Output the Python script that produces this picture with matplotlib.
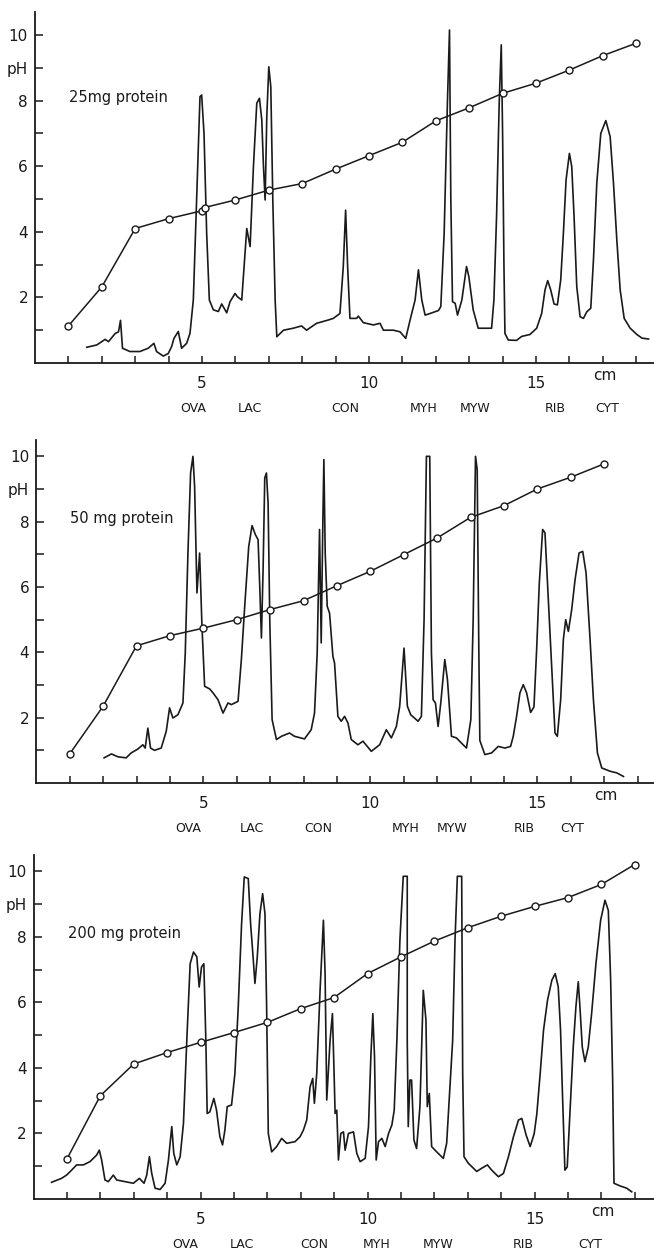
import matplotlib
matplotlib.use("Agg")
import matplotlib.pyplot as plt

# ---------------- data ----------------
ph_x1 = [1, 2, 3, 4, 5, 5.08, 6, 7, 8, 9, 10, 11, 12, 13, 14, 15, 16, 17, 18]
ph_y1 = [1.13, 2.32, 4.1, 4.4, 4.64, 4.74, 4.97, 5.27, 5.47, 5.91, 6.32, 6.73, 7.38, 7.78, 8.22, 8.53, 8.93, 9.37, 9.75]

ph_x2 = [1, 2, 3, 4, 5, 6, 7, 8, 9, 10, 11, 12, 13, 14, 15, 16, 17]
ph_y2 = [0.89, 2.35, 4.2, 4.51, 4.74, 5.0, 5.31, 5.58, 6.04, 6.48, 6.99, 7.5, 8.13, 8.49, 9.0, 9.36, 9.77]

ph_x3 = [1, 2, 3, 4, 5, 6, 7, 8, 9, 10, 11, 12, 13, 14, 15, 16, 17, 18]
ph_y3 = [1.22, 3.15, 4.12, 4.47, 4.78, 5.08, 5.39, 5.81, 6.15, 6.88, 7.39, 7.87, 8.28, 8.63, 8.93, 9.2, 9.6, 10.21]

cur_x1 = [1.55, 1.85, 2.1, 2.2, 2.4, 2.5, 2.56, 2.62, 2.84, 3.14, 3.39, 3.56, 3.64, 3.84, 3.99, 4.09,
          4.16, 4.29, 4.39, 4.54, 4.64, 4.74, 4.84, 4.94, 4.99, 5.06, 5.14, 5.22, 5.34, 5.49, 5.59,
          5.74, 5.84, 5.99, 6.06, 6.19, 6.26, 6.34, 6.44, 6.54, 6.64, 6.72, 6.79, 6.84, 6.89, 6.94,
          7.0, 7.06, 7.12, 7.19, 7.24, 7.44, 7.73, 7.98, 8.13, 8.43, 8.78, 8.93, 9.13, 9.23, 9.3,
          9.36, 9.43, 9.63, 9.68, 9.83, 10.13, 10.33, 10.43, 10.73, 10.93, 11.1, 11.23, 11.38, 11.48,
          11.58, 11.68, 11.83, 12.08, 12.15, 12.25, 12.35, 12.41, 12.45, 12.5, 12.58, 12.65, 12.78,
          12.92, 12.99, 13.12, 13.27, 13.5, 13.67, 13.74, 13.82, 13.9, 13.96, 14.0, 14.04, 14.07,
          14.17, 14.42, 14.57, 14.82, 15.02, 15.17, 15.27, 15.35, 15.44, 15.54, 15.64, 15.74, 15.82,
          15.9, 16.0, 16.07, 16.14, 16.22, 16.32, 16.42, 16.52, 16.64, 16.72, 16.82, 16.94, 17.09,
          17.22, 17.32, 17.42, 17.52, 17.64, 17.82, 18.02, 18.17, 18.37]
cur_y1 = [0.48, 0.55, 0.72, 0.65, 0.9, 0.95, 1.3, 0.45, 0.35, 0.35, 0.45, 0.6, 0.35, 0.21, 0.29, 0.5,
          0.75, 0.96, 0.45, 0.6, 0.9, 1.92, 4.97, 8.12, 8.17, 7.0, 3.95, 1.92, 1.62, 1.57, 1.8,
          1.53, 1.87, 2.12, 2.02, 1.92, 2.94, 4.1, 3.55, 5.99, 7.92, 8.07, 7.41, 6.0, 4.97, 7.52,
          9.03, 8.42, 4.97, 1.92, 0.8, 1.0, 1.06, 1.13, 1.0, 1.21, 1.31, 1.36, 1.51, 2.94, 4.66,
          2.94, 1.36, 1.36, 1.43, 1.23, 1.16, 1.21, 1.0, 1.0, 0.95, 0.75, 1.31, 1.92, 2.84,
          1.92, 1.46, 1.51, 1.6, 1.72, 3.95, 8.02, 10.15, 4.97, 1.87, 1.82, 1.46, 1.92,
          2.94, 2.63, 1.62, 1.06, 1.06, 1.06, 1.92, 4.5, 8.0, 9.7, 7.0, 3.0, 0.9,
          0.7, 0.69, 0.81, 0.87, 1.06, 1.51, 2.23, 2.51, 2.23, 1.8, 1.77, 2.53, 3.95,
          5.58, 6.39, 5.99, 4.46, 2.33, 1.41, 1.36, 1.56, 1.67, 3.14, 5.48, 7.0, 7.39,
          6.9, 5.48, 3.75, 2.23, 1.36, 1.06, 0.87, 0.76, 0.73]

cur_x2 = [2.03, 2.25, 2.45, 2.69, 2.84, 3.04, 3.19, 3.26, 3.34, 3.42, 3.54, 3.74, 3.89, 3.99, 4.09,
          4.24, 4.39, 4.46, 4.54, 4.62, 4.69, 4.74, 4.81, 4.89, 4.96, 5.04, 5.19, 5.29, 5.44, 5.59,
          5.74, 5.84, 6.04, 6.14, 6.24, 6.36, 6.46, 6.56, 6.64, 6.69, 6.74, 6.79, 6.84, 6.89, 6.94,
          6.99, 7.06, 7.19, 7.34, 7.58, 7.73, 8.03, 8.23, 8.33, 8.41, 8.48, 8.53, 8.58, 8.61, 8.65,
          8.71, 8.78, 8.88, 8.93, 9.03, 9.13, 9.23, 9.33, 9.43, 9.63, 9.78, 10.03, 10.28, 10.48,
          10.63, 10.78, 10.88, 11.01, 11.11, 11.21, 11.43, 11.53, 11.61, 11.68, 11.78, 11.83, 11.88,
          11.95, 12.03, 12.11, 12.23, 12.31, 12.43, 12.58, 12.73, 12.88, 13.01, 13.08, 13.15, 13.2,
          13.25, 13.28, 13.43, 13.63, 13.83, 14.03, 14.2, 14.28, 14.38, 14.48, 14.58, 14.68, 14.8,
          14.9, 14.98, 15.06, 15.16, 15.23, 15.33, 15.43, 15.53, 15.6, 15.7, 15.78, 15.85, 15.93,
          16.03, 16.13, 16.25, 16.36, 16.46, 16.58, 16.68, 16.8, 16.93, 17.18, 17.38, 17.58]
cur_y2 = [0.77, 0.89, 0.8, 0.77, 0.92, 1.04, 1.17, 1.07, 1.68, 1.07, 1.0, 1.07, 1.58, 2.3, 1.99,
          2.09, 2.45, 3.98, 7.04, 9.49, 10.0, 9.08, 5.82, 7.04, 4.8, 2.96, 2.88, 2.76, 2.55, 2.14,
          2.45, 2.4, 2.5, 3.78, 5.41, 7.24, 7.88, 7.6, 7.45, 6.02, 4.44, 6.53, 9.34, 9.49, 8.57,
          5.0, 1.94, 1.33, 1.43, 1.53, 1.43, 1.35, 1.63, 2.14, 3.98, 7.76, 4.29, 8.06, 9.9, 7.04,
          5.41, 5.2, 3.88, 3.67, 2.04, 1.89, 2.04, 1.84, 1.33, 1.17, 1.28, 0.97, 1.17, 1.63,
          1.38, 1.73, 2.35, 4.13, 2.35, 2.09, 1.89, 2.04, 5.0, 10.0, 10.0, 3.98, 2.55,
          2.45, 1.73, 2.45, 3.78, 3.16, 1.43, 1.38, 1.22, 1.07, 1.94, 5.0, 10.0, 9.6,
          4.0, 1.3, 0.87, 0.92, 1.12, 1.07, 1.12, 1.43, 2.04, 2.76, 3.01, 2.76, 2.16,
          2.33, 4.08, 6.12, 7.76, 7.66, 5.61, 3.57, 1.53, 1.43, 2.55, 4.39, 5.0, 4.64,
          5.31, 6.22, 7.04, 7.09, 6.43, 4.39, 2.55, 0.92, 0.46, 0.36, 0.31, 0.2]

cur_x3 = [0.54, 0.84, 0.99, 1.14, 1.29, 1.49, 1.69, 1.89, 1.97, 2.04, 2.14, 2.24, 2.39, 2.49, 2.74,
          2.99, 3.17, 3.31, 3.39, 3.47, 3.54, 3.64, 3.79, 3.94, 4.04, 4.14, 4.2, 4.29, 4.39, 4.49,
          4.59, 4.69, 4.79, 4.89, 4.96, 5.03, 5.1, 5.16, 5.2, 5.28, 5.4, 5.48, 5.58, 5.66, 5.73,
          5.8, 5.93, 6.03, 6.13, 6.23, 6.31, 6.43, 6.5, 6.56, 6.63, 6.7, 6.78, 6.86, 6.93, 6.98,
          7.03, 7.13, 7.28, 7.43, 7.58, 7.83, 7.98, 8.08, 8.18, 8.28, 8.36, 8.41, 8.48, 8.58, 8.68,
          8.73, 8.78, 8.88, 8.95, 9.0, 9.03, 9.08, 9.13, 9.2, 9.28, 9.33, 9.43, 9.58, 9.68, 9.78,
          9.93, 10.03, 10.1, 10.16, 10.21, 10.26, 10.33, 10.43, 10.53, 10.63, 10.73, 10.8, 10.88,
          10.97, 11.07, 11.19, 11.19, 11.22, 11.27, 11.32, 11.39, 11.47, 11.57, 11.67, 11.75, 11.79,
          11.85, 11.92, 12.07, 12.27, 12.37, 12.47, 12.55, 12.62, 12.69, 12.82, 12.85, 12.89, 13.02,
          13.27, 13.42, 13.59, 13.72, 13.92, 14.07, 14.22, 14.37, 14.52, 14.62, 14.75, 14.87, 14.99,
          15.07, 15.17, 15.27, 15.39, 15.52, 15.62, 15.71, 15.78, 15.84, 15.91, 15.98, 16.06, 16.16,
          16.24, 16.31, 16.36, 16.43, 16.51, 16.61, 16.71, 16.84, 16.98, 17.11, 17.21, 17.28, 17.34,
          17.38, 17.56, 17.76, 17.91]
cur_y3 = [0.51, 0.63, 0.73, 0.88, 1.04, 1.04, 1.14, 1.34, 1.49, 1.19, 0.58, 0.53, 0.73, 0.58, 0.53,
          0.48, 0.63, 0.48, 0.73, 1.29, 0.78, 0.33, 0.29, 0.48, 1.19, 2.21, 1.39, 1.04, 1.29, 2.31,
          4.85, 7.18, 7.54, 7.39, 6.47, 7.08, 7.18, 4.85, 2.61, 2.66, 3.07, 2.71, 1.9, 1.65, 2.1,
          2.82, 2.87, 3.83, 5.86, 8.4, 9.83, 9.78, 8.4, 7.59, 6.58, 7.39, 8.71, 9.32, 8.71, 5.86,
          2.0, 1.44, 1.6, 1.85, 1.7, 1.75, 1.9, 2.1, 2.41, 3.42, 3.68, 2.92, 3.83, 6.37, 8.51,
          6.88, 3.02, 4.85, 5.66, 3.83, 2.61, 2.71, 1.19, 2.0, 2.05, 1.49, 2.0, 2.05, 1.39, 1.14,
          1.24, 2.21, 4.34, 5.66, 4.34, 1.19, 1.75, 1.85, 1.6, 2.0, 2.26, 2.71, 4.85,
          7.9, 9.85, 9.85, 4.85, 2.21, 3.63, 3.63, 1.8, 1.54, 2.82, 6.37, 5.46, 2.82,
          3.22, 1.6, 1.44, 1.24, 1.7, 3.48, 4.85, 7.9, 9.85, 9.85, 3.83, 1.29, 1.09,
          0.84, 0.94, 1.04, 0.88, 0.68, 0.78, 1.29, 1.9, 2.41, 2.46, 1.95, 1.6, 1.99,
          2.6, 3.83, 5.15, 6.07, 6.68, 6.88, 6.48, 5.15, 3.12, 0.88, 0.98, 2.6, 4.64,
          5.87, 6.63, 5.87, 4.64, 4.19, 4.64, 5.66, 7.19, 8.51, 9.12, 8.81, 6.68, 3.63,
          0.48, 0.4, 0.33, 0.22]

proteins = ["OVA", "LAC", "CON", "MYH", "MYW", "RIB", "CYT"]
prot_x1 = [4.73, 6.44, 9.28, 11.65, 13.17, 15.57, 17.13]
prot_x2 = [4.55, 6.45, 8.44, 11.05, 12.45, 14.6, 16.05]
prot_x3 = [4.54, 6.23, 8.4, 10.28, 12.1, 14.66, 16.66]

titles = ["25mg protein", "50 mg protein", "200 mg protein"]
y_ticks = [1, 2, 3, 4, 5, 6, 7, 8, 9, 10]
y_ticklabels = ["", "2", "", "4", "", "6", "", "8", "pH", "10"]
x_ticks = list(range(1, 19))
x_ticklabels = ["" if t not in (5, 10, 15) else str(t) for t in x_ticks]

# ---------------- figure ----------------
W, H = 654, 1259
fig = plt.figure(figsize=(W / 100, H / 100), dpi=100)
plt.rcParams['font.family'] = ['DejaVu Sans']

panels = [
    dict(x0=35.0, ytop=12, ybot=363, ymax=10.7, ph=(ph_x1, ph_y1), cur=(cur_x1, cur_y1), prot=prot_x1),
    dict(x0=36.3, ytop=440, ybot=783, ymax=10.5, ph=(ph_x2, ph_y2), cur=(cur_x2, cur_y2), prot=prot_x2),
    dict(x0=33.5, ytop=855, ybot=1199, ymax=10.5, ph=(ph_x3, ph_y3), cur=(cur_x3, cur_y3), prot=prot_x3),
]
xunit = 33.4
ink = '#1a1a1a'

for i, p in enumerate(panels):
    left = p['x0'] / W
    width = (W - p['x0']) / W
    bottom = 1 - p['ybot'] / H
    height = (p['ybot'] - p['ytop']) / H
    ax = fig.add_axes([left, bottom, width, height])
    xmax = (W - p['x0']) / xunit
    ax.set_xlim(0, xmax)
    ax.set_ylim(0, p['ymax'])
    for s in ('top', 'right'):
        ax.spines[s].set_visible(False)
    for s in ('left', 'bottom'):
        ax.spines[s].set_linewidth(1.3)
        ax.spines[s].set_color(ink)

    ax.plot(p['cur'][0], p['cur'][1], color=ink, lw=1.2, solid_joinstyle='round')
    ax.plot(p['ph'][0], p['ph'][1], color=ink, lw=1.1, marker='o', markersize=5,
            markerfacecolor='white', markeredgecolor=ink, markeredgewidth=1.0)

    ax.set_yticks(y_ticks)
    ax.set_yticklabels(y_ticklabels)
    ax.set_xticks(x_ticks)
    ax.set_xticklabels(x_ticklabels)
    ax.tick_params(axis='y', direction='in', length=6, width=1.1, pad=5, labelsize=11, colors=ink)
    ax.tick_params(axis='x', direction='in', length=5, width=1.1, pad=9, labelsize=11, colors=ink)

    ax.text(1.02, 8.1, titles[i], fontsize=10.5, ha='left', va='center', color=ink)
    ax.annotate("cm", xy=(17.05, 0), xycoords='data', xytext=(0, -12), textcoords='offset pixels',
                ha='center', va='center', fontsize=11, color=ink)
    for name, xp in zip(proteins, p['prot']):
        ax.annotate(name, xy=(xp, 0), xycoords='data', xytext=(0, -45), textcoords='offset pixels',
                    ha='center', va='center', fontsize=9, color=ink)

fig.savefig("out.png", dpi=100, facecolor='white')
